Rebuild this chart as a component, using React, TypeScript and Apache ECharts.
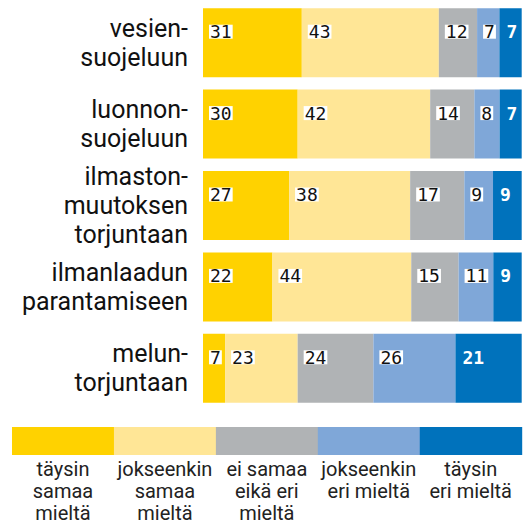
import React, { useEffect, useRef } from "react";
import * as echarts from "echarts";

const categories = [
  "vesien-\nsuojeluun",
  "luonnon-\nsuojeluun",
  "ilmaston-\nmuutoksen\ntorjuntaan",
  "ilmanlaadun\nparantamiseen",
  "melun-\ntorjuntaan",
];

const seriesNames = [
  "täysin\nsamaa\nmieltä",
  "jokseenkin\nsamaa\nmieltä",
  "ei samaa\neikä eri\nmieltä",
  "jokseenkin\neri mieltä",
  "täysin\neri mieltä",
];

const fullyAgree = [31, 30, 27, 22, 7];
const somewhatAgree = [43, 42, 38, 44, 23];
const neutral = [12, 14, 17, 15, 24];
const somewhatDisagree = [7, 8, 9, 11, 26];
const fullyDisagree = [7, 7, 9, 9, 21];

const colors = ["#FFD200", "#FFE696", "#B0B3B5", "#7FA7D8", "#0072BC"];

export default function App() {
  const ref = useRef<HTMLDivElement>(null);

  useEffect(() => {
    if (!ref.current) return;
    const chart = echarts.init(ref.current, undefined, { renderer: "svg" });
    const all = [fullyAgree, somewhatAgree, neutral, somewhatDisagree, fullyDisagree];
    const totals = categories.map((_, i) => all.reduce((s, arr) => s + arr[i], 0));

    const series = all.map((arr, si) => {
      const last = si === all.length - 1;
      return {
        type: "bar",
        name: seriesNames[si],
        stack: "total",
        barWidth: 69,
        itemStyle: { color: colors[si] },
        data: arr.map((v, i) => ({ value: (v / totals[i]) * 100, raw: v })),
        label: {
          show: true,
          position: "insideLeft",
          distance: 6,
          offset: [0, -11],
          formatter: (p: any) => String(p.data.raw),
          fontFamily: "DejaVu Sans Mono",
          fontSize: 18,
          fontWeight: last ? "bold" : "normal",
          color: last ? "#ffffff" : "#111111",
          backgroundColor: last ? "transparent" : "#ffffff",
          padding: [0, 1],
          lineHeight: 14,
        },
      };
    });

    const legendLeft = 12;
    const legendRight = 521.7;
    const segW = (legendRight - legendLeft) / seriesNames.length;
    const graphic: any[] = [];
    seriesNames.forEach((name, i) => {
      graphic.push({
        type: "rect",
        shape: { x: legendLeft + i * segW, y: 427, width: segW + 0.5, height: 28 },
        style: { fill: colors[i] },
      });
      graphic.push({
        type: "text",
        x: legendLeft + i * segW + segW / 2,
        y: 458,
        style: {
          text: name,
          fill: "#222222",
          font: "20px Roboto",
          lineHeight: 22,
          align: "center",
          verticalAlign: "top",
        },
      });
    });

    chart.setOption({
      animation: false,
      grid: { left: 203, right: 10.3, top: 2, height: 407 },
      xAxis: {
        type: "value",
        min: 0,
        max: 100,
        show: false,
      },
      yAxis: {
        type: "category",
        data: categories,
        inverse: true,
        axisLine: { show: false },
        axisTick: { show: false },
        axisLabel: {
          margin: 15,
          fontFamily: "Roboto",
          fontSize: 25,
          lineHeight: 29,
          color: "#111111",
          align: "right",
        },
      },
      graphic,
      series,
    });
    return () => chart.dispose();
  }, []);

  return <div ref={ref} style={{ width: 532, height: 524, position: "absolute", left: 0, top: 0 }} />;
}
